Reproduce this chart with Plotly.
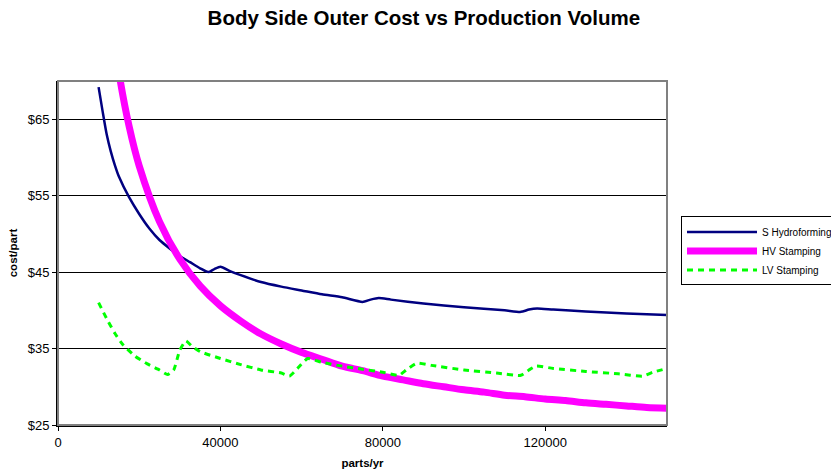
import plotly.graph_objects as go

# Production volume (parts/yr) and unit cost ($/part) for each process
hydro_x = [10000, 11000, 12000, 13000, 14000, 15000, 17500, 20000, 22500, 25000,
           27500, 30000, 32500, 35000, 37000, 38500, 40000, 42500, 45000, 50000,
           55000, 60000, 65000, 70000, 75000, 77000, 79000, 82000, 90000, 100000,
           110000, 114000, 116000, 118000, 122000, 130000, 140000, 150000]
hydro_cost = [69.2, 66.0, 63.0, 60.8, 59.0, 57.5, 54.8, 52.6, 50.7, 49.2,
              48.1, 47.1, 46.3, 45.5, 45.0, 45.4, 45.7, 45.1, 44.6, 43.7,
              43.1, 42.6, 42.1, 41.7, 41.1, 41.4, 41.6, 41.4, 40.9, 40.4,
              40.0, 39.8, 40.1, 40.25, 40.1, 39.85, 39.6, 39.4]

hv_x = [10000, 12500, 15000, 17500, 20000, 25000, 30000, 35000, 40000, 45000,
        50000, 55000, 60000, 65000, 70000, 75000, 80000, 85000, 90000, 95000,
        100000, 105000, 110000, 115000, 120000, 125000, 130000, 135000, 140000,
        145000, 150000]
hv_cost = [95.4, 80.8, 71.1, 64.1, 58.9, 51.6, 46.7, 43.2, 40.6, 38.6,
           36.9, 35.6, 34.5, 33.6, 32.7, 32.1, 31.4, 30.9, 30.4, 30.0,
           29.6, 29.3, 28.9, 28.7, 28.4, 28.2, 27.9, 27.7, 27.5,
           27.3, 27.2]

lv_x = [10000, 12000, 14000, 16000, 19000, 22000, 25000, 27000, 28500, 30000,
        31500, 33000, 35000, 40000, 45000, 50000, 55000, 57000, 59000, 61500,
        65000, 70000, 75000, 80000, 84000, 86000, 88500, 92000, 100000, 108000,
        114000, 116000, 117800, 122000, 130000, 138000, 144000, 146500, 150000]
lv_cost = [41.0, 38.9, 37.0, 35.5, 34.0, 33.0, 32.2, 31.6, 32.2, 34.8,
           36.0, 35.3, 34.6, 33.7, 32.9, 32.2, 31.8, 31.4, 32.4, 33.7,
           33.2, 32.7, 32.3, 31.9, 31.5, 32.3, 33.1, 32.8, 32.2, 31.8,
           31.5, 32.2, 32.7, 32.4, 32.0, 31.7, 31.4, 31.9, 32.4]

y_ticks = [25, 35, 45, 55, 65]
x_ticks = [0, 40000, 80000, 120000]

FONT = "Liberation Sans, Arial, sans-serif"

fig = go.Figure()
fig.add_trace(go.Scatter(
    x=hydro_x, y=hydro_cost, name="S Hydroforming", mode="lines",
    line=dict(color="#000080", width=2.5, shape="spline", smoothing=0.6)))
fig.add_trace(go.Scatter(
    x=hv_x, y=hv_cost, name="HV Stamping", mode="lines",
    line=dict(color="#FF00FF", width=7, shape="spline", smoothing=0.8)))
fig.add_trace(go.Scatter(
    x=lv_x, y=lv_cost, name="LV Stamping", mode="lines",
    line=dict(color="#00FF00", width=3, dash="6px,5px", shape="spline", smoothing=0.5)))

# grey frame around the plotting area
fig.add_shape(type="rect", xref="paper", yref="paper", x0=0, y0=0, x1=1, y1=1,
              line=dict(color="#808080", width=2), layer="above")

fig.update_layout(
    width=831, height=475,
    margin=dict(l=58, r=164, t=81, b=50, autoexpand=False),
    paper_bgcolor="white", plot_bgcolor="white",
    font=dict(family=FONT, size=13, color="black"),
    title=dict(text="<b>Body Side Outer Cost vs Production Volume</b>",
               x=0.51, xanchor="center", y=0.962, yanchor="middle",
               font=dict(family=FONT, size=20.5, color="black")),
    showlegend=True,
    legend=dict(x=1.023, xanchor="left", y=0.506, yanchor="middle",
                bgcolor="white", bordercolor="black", borderwidth=1,
                font=dict(family=FONT, size=10, color="black"),
                itemwidth=70, tracegroupgap=2),
    xaxis=dict(range=[0, 150000], tickvals=x_ticks, ticktext=[str(v) for v in x_ticks],
               showgrid=False, zeroline=False, showline=True, linecolor="black", linewidth=2,
               ticks="outside", ticklen=4, tickcolor="black",
               tickfont=dict(family=FONT, size=13),
               title=dict(text="<b>parts/yr</b>", font=dict(family=FONT, size=11.5), standoff=10)),
    yaxis=dict(range=[25, 70], tickvals=y_ticks, ticktext=["$%d" % v for v in y_ticks],
               showgrid=True, gridcolor="black", gridwidth=1, zeroline=False,
               showline=True, linecolor="black", linewidth=2,
               ticks="outside", ticklen=4, tickcolor="black",
               tickfont=dict(family=FONT, size=13),
               title=dict(text="<b>cost/part</b>", font=dict(family=FONT, size=11.5), standoff=8)),
)

fig.write_html("out.html")
